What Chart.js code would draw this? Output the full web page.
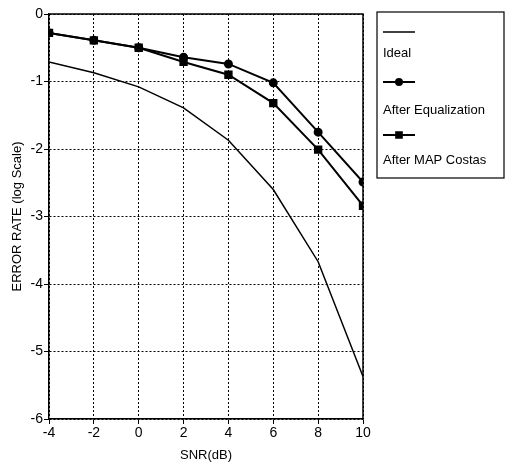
<!DOCTYPE html>
<html>
<head>
<meta charset="utf-8">
<script src="https://cdn.jsdelivr.net/npm/chart.js@4/dist/chart.umd.min.js"></script>
<style>
html,body{margin:0;padding:0;background:#fff;}
#wrap{width:505px;height:471px;position:relative;}
</style>
</head>
<body>
<div id="wrap"><canvas id="c" width="505" height="471"></canvas></div>
<script>
const snr = [-4, -2, 0, 2, 4, 6, 8, 10];
const ideal = [-0.71, -0.87, -1.08, -1.39, -1.87, -2.6, -3.67, -5.37];
const afterEq = [-0.28, -0.39, -0.5, -0.64, -0.74, -1.02, -1.75, -2.49];
const afterCostas = [-0.28, -0.39, -0.5, -0.71, -0.9, -1.32, -2.01, -2.84];
const seriesLabels = ['Ideal', 'After Equalization', 'After MAP Costas'];
const xTitle = 'SNR(dB)';
const yTitle = 'ERROR RATE (log Scale)';

const toPts = arr => snr.map((x, i) => ({x: x, y: arr[i]}));
const FONT = 'Liberation Sans, Arial, sans-serif';

const frame = {
  id: 'frame',
  afterDatasetsDraw(chart) {
    const a = chart.chartArea, ctx = chart.ctx;
    ctx.save();
    ctx.strokeStyle = '#000';
    ctx.lineWidth = 1.5;
    ctx.beginPath();
    ctx.moveTo(a.left, a.top); ctx.lineTo(a.right, a.top); ctx.lineTo(a.right, a.bottom);
    ctx.stroke();
    ctx.restore();
  }
};

const legendBox = {
  id: 'legendBox',
  afterDraw(chart) {
    const ctx = chart.ctx;
    const bx = 377, by = 12, bw = 127, bh = 166;
    ctx.save();
    ctx.strokeStyle = '#000';
    ctx.lineWidth = 1.2;
    ctx.strokeRect(bx, by, bw, bh);
    const rows = [32, 82, 135];
    const textRows = [53, 110, 160];
    chart.data.datasets.forEach((ds, i) => {
      const y = rows[i];
      ctx.strokeStyle = '#000';
      ctx.lineWidth = ds.borderWidth;
      ctx.beginPath(); ctx.moveTo(383, y); ctx.lineTo(415, y); ctx.stroke();
      if (ds.pointRadius > 0) {
        ctx.fillStyle = '#000';
        Chart.helpers.drawPoint(ctx, {pointStyle: ds.pointStyle, radius: ds.pointRadius - 0.5, borderWidth: 1}, 399, y);
        ctx.fill();
      }
      ctx.fillStyle = '#000';
      ctx.font = '13px ' + FONT;
      ctx.textBaseline = 'middle';
      ctx.textAlign = 'left';
      ctx.fillText(ds.label, 383, textRows[i]);
    });
    ctx.restore();
  }
};

new Chart(document.getElementById('c'), {
  type: 'line',
  data: {
    datasets: [
      {label: seriesLabels[0], data: toPts(ideal), borderColor: '#000', backgroundColor: '#000', borderWidth: 1.5, pointRadius: 0, tension: 0},
      {label: seriesLabels[1], data: toPts(afterEq), borderColor: '#000', backgroundColor: '#000', borderWidth: 2, pointRadius: 3.5, pointStyle: 'circle', tension: 0},
      {label: seriesLabels[2], data: toPts(afterCostas), borderColor: '#000', backgroundColor: '#000', borderWidth: 2, pointRadius: 4.5, pointStyle: 'rect', tension: 0}
    ]
  },
  options: {
    responsive: false,
    animation: false,
    layout: {padding: {top: 14, right: 142, left: 0, bottom: 0}},
    plugins: {legend: {display: false}, tooltip: {enabled: false}},
    scales: {
      x: {
        type: 'linear', min: -4, max: 10,
        afterFit(s) { s.height = 52; },
        ticks: {stepSize: 2, color: '#000', padding: 1, font: {family: FONT, size: 14}},
        grid: {color: '#000', lineWidth: 1, tickLength: 5},
        border: {display: true, color: '#000', width: 1.5, dash: [2, 2]},
        title: {display: true, text: xTitle, color: '#000', font: {family: FONT, size: 13}, padding: {top: 0, bottom: 8}}
      },
      y: {
        type: 'linear', min: -6, max: 0,
        afterFit(s) { s.width = 49; },
        ticks: {stepSize: 1, color: '#000', padding: 1, font: {family: FONT, size: 14}},
        grid: {color: '#000', lineWidth: 1, tickLength: 5},
        border: {display: true, color: '#000', width: 1.5, dash: [2, 2]},
        title: {display: true, text: yTitle, color: '#000', font: {family: FONT, size: 13}, padding: {top: 10, bottom: 4}}
      }
    }
  },
  plugins: [frame, legendBox]
});
</script>
</body>
</html>
